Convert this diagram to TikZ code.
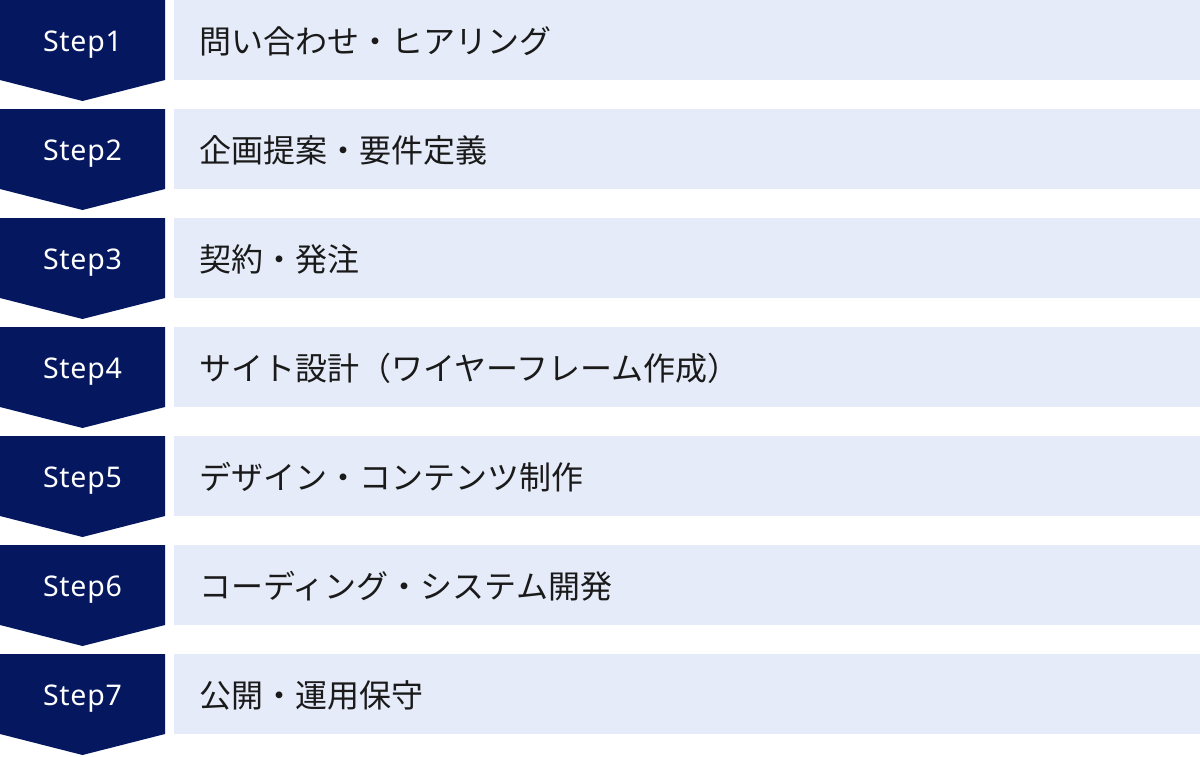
\documentclass[tikz,border=0pt]{standalone}
\usepackage{fontspec}
\setmainfont{Noto Sans CJK JP}
\newfontfamily\stepfont[LetterSpace=2.5]{Noto Sans}
\definecolor{navy}{HTML}{05185F}
\definecolor{pale}{HTML}{E5EBF8}
\definecolor{ink}{HTML}{1A1A1A}
\begin{document}
\begin{tikzpicture}[x=1pt,y=-1pt,
  stepshape/.style={fill=navy},
  boxshape/.style={fill=pale,draw=none,minimum width=1026pt,minimum height=80pt,inner sep=0pt,anchor=north west},
  steplabel/.style={text=white,font=\stepfont\fontsize{28.5}{28.5}\selectfont,inner sep=0pt},
  tasklabel/.style={anchor=west,font=\fontsize{32}{32}\selectfont,inner sep=0pt,text=ink}]
\useasboundingbox (0,0) rectangle (1200,756);
\foreach \i/\t in {1/問い合わせ・ヒアリング,2/企画提案・要件定義,3/契約・発注,4/サイト設計（ワイヤーフレーム作成）,5/デザイン・コンテンツ制作,6/コーディング・システム開発,7/公開・運用保守}{
  \pgfmathsetmacro\yy{109*(\i-1)}
  \fill[stepshape] (0,\yy) -- (165,\yy) -- (165,\yy+80) -- (82.5,\yy+101) -- (0,\yy+80) -- cycle;
  \node[steplabel] (step\i) at (82.5,\yy+44.5) {Step\i};
  \node[boxshape] (box\i) at (174,\yy) {};
  \node[tasklabel] (task\i) at ([xshift=25pt,yshift=-1pt]box\i.west) {\t};
}
\end{tikzpicture}
\end{document}
